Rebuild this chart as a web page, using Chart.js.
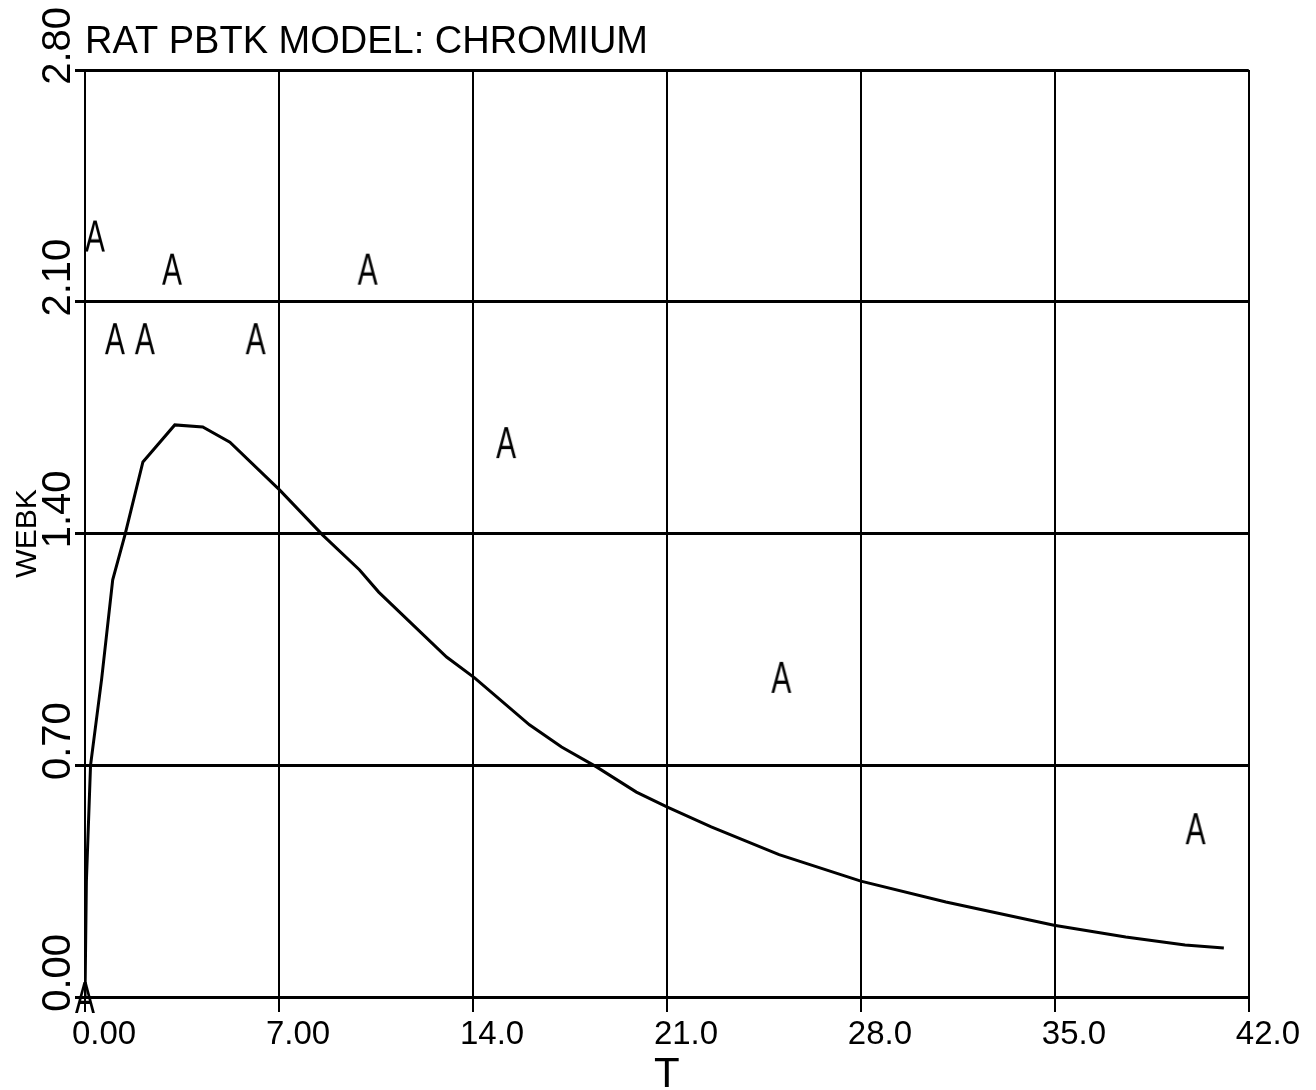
<!DOCTYPE html>
<html>
<head>
<meta charset="utf-8">
<title>RAT PBTK MODEL: CHROMIUM</title>
<script src="https://cdn.jsdelivr.net/npm/chart.js@4.4.1/dist/chart.umd.min.js"></script>
<style>
  html, body { margin: 0; padding: 0; background: #fff; }
  #wrap { width: 1316px; height: 1090px; position: relative; }
</style>
</head>
<body>
<div id="wrap"><canvas id="pbtkChart"></canvas></div>
<script>
// simulated curve, WEBK vs T
const curveT = [0, 0.05, 0.2, 0.6, 1.0, 1.44, 2.09, 3.24, 4.25, 5.23, 7.03, 8.58, 9.91, 10.6,
                13.05, 14.06, 16.04, 17.2, 18.46, 19.9, 21.0, 22.6, 25.05, 28.0, 31.07, 34.97,
                37.56, 39.7, 41.1];
const curveV = [0, 0.35, 0.70, 0.96, 1.26, 1.395, 1.616, 1.728, 1.722, 1.676, 1.531, 1.395, 1.29, 1.223,
                1.027, 0.964, 0.822, 0.755, 0.695, 0.619, 0.574, 0.514, 0.43, 0.350, 0.287, 0.217,
                0.181, 0.157, 0.148];

// observed points (plotted as "A")
const obsT = [0, 0.36, 1.08, 2.16, 3.14, 6.16, 10.2, 15.2, 25.13, 40.08];
const obsV = [0.0, 2.30, 1.99, 1.99, 2.20, 1.99, 2.20, 1.676, 0.967, 0.51];

const xTickValues = [0, 7, 14, 21, 28, 35, 42];
const xTickLabels = ['0.00', '7.00', '14.0', '21.0', '28.0', '35.0', '42.0'];
const yTickValues = [0, 0.7, 1.4, 2.1, 2.8];
const yTickLabels = ['0.00', '0.70', '1.40', '2.10', '2.80'];

const FONT = "'Liberation Sans', 'DejaVu Sans', sans-serif";

// plotter-style "A" symbol, squeezed horizontally
function makeMarker() {
    const c = document.createElement('canvas');
    c.width = 30;
    c.height = 44;
    const g = c.getContext('2d');
    g.fillStyle = '#000';
    g.font = '44px ' + FONT;
    g.textAlign = 'center';
    g.textBaseline = 'alphabetic';
    g.translate(15, 0);
    g.scale(0.68, 1);
    g.fillText('A', 0, 38);
    return c;
}

Chart.defaults.font.family = FONT;
Chart.defaults.color = '#000';

const ctx = document.getElementById('pbtkChart');
new Chart(ctx, {
    type: 'scatter',
    data: {
        datasets: [{
            label: 'WEBK',
            data: curveT.map((t, i) => ({ x: t, y: curveV[i] })),
            showLine: true,
            borderColor: '#000',
            borderWidth: 3,
            pointRadius: 0,
            tension: 0
        }, {
            label: 'A',
            data: obsT.map((t, i) => ({ x: t, y: obsV[i] })),
            showLine: false,
            pointStyle: makeMarker(),
            pointRadius: 15,
            clip: false
        }]
    },
    options: {
        responsive: true,
        maintainAspectRatio: false,
        animation: false,
        layout: { padding: { left: 0, right: 66, top: 0, bottom: 0 } },
        plugins: {
            legend: { display: false },
            tooltip: { enabled: false },
            title: {
                display: true,
                text: 'RAT PBTK MODEL: CHROMIUM',
                align: 'start',
                fullSize: false,
                color: '#000',
                font: { size: 38, weight: 'normal', lineHeight: 1.2 },
                padding: { top: 20, bottom: 4.4 }
            }
        },
        scales: {
            x: {
                type: 'linear',
                min: 0,
                max: 42,
                afterBuildTicks: s => { s.ticks = xTickValues.map(v => ({ value: v })); },
                afterFit: s => { s.height = 93; },
                ticks: {
                    autoSkip: false,
                    maxRotation: 0,
                    align: 'start',
                    labelOffset: -13,
                    padding: 3,
                    color: '#000',
                    font: { size: 33 },
                    callback: (v, i) => xTickLabels[i]
                },
                grid: { color: '#000', lineWidth: 2, tickLength: 15 },
                border: { color: '#000', width: 3 },
                title: {
                    display: true,
                    text: 'T',
                    color: '#000',
                    font: { size: 42, lineHeight: 1 },
                    padding: { top: 0, bottom: -6 }
                }
            },
            y: {
                type: 'linear',
                min: 0,
                max: 2.8,
                afterBuildTicks: s => { s.ticks = yTickValues.map(v => ({ value: v })); },
                afterFit: s => { s.width = 85; },
                ticks: {
                    autoSkip: false,
                    minRotation: 90,
                    maxRotation: 90,
                    padding: 16,
                    labelOffset: -63,
                    color: '#000',
                    font: { size: 40 },
                    callback: (v, i) => yTickLabels[i]
                },
                grid: { color: '#000', lineWidth: 3, tickLength: 10 },
                border: { color: '#000', width: 2 },
                title: {
                    display: true,
                    text: 'WEBK',
                    color: '#000',
                    font: { size: 30, lineHeight: 1 },
                    padding: { top: 13, bottom: 0 }
                }
            }
        }
    }
});
</script>
</body>
</html>
